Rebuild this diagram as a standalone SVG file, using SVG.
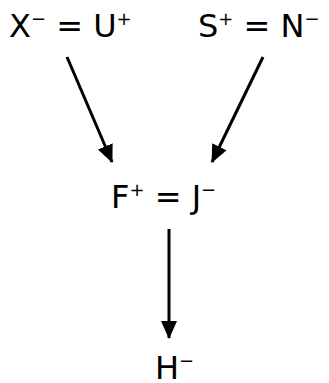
<svg xmlns="http://www.w3.org/2000/svg" width="329" height="383" viewBox="0 0 329 383">
<style>
text{font-family:"DejaVu Sans","Verdana",sans-serif;font-size:32px;fill:#000;}
.s{font-size:18px;}
.c{stroke:#000;stroke-width:3;fill:none;marker-end:url(#ah);}
</style>
<defs>
<marker id="ah" markerUnits="userSpaceOnUse" markerWidth="18" markerHeight="18" viewBox="0 0 18 16" refX="17" refY="8" orient="auto">
<path d="M0,0 L18,8 L0,16 Z" fill="#000"/>
</marker>
</defs>
<rect width="329" height="383" fill="#fff"/>
<g id="connectors">
<line class="c" x1="67" y1="57" x2="112" y2="162"/>
<line class="c" x1="263" y1="57" x2="212" y2="162"/>
<line class="c" x1="169" y1="229" x2="169" y2="338"/>
</g>
<g id="n1"><text x="9" y="37">X<tspan class="s" dy="-12">−</tspan><tspan dy="12"> = U</tspan><tspan class="s" dy="-12">+</tspan></text></g>
<g id="n2"><text x="198" y="37">S<tspan class="s" dy="-12">+</tspan><tspan dy="12"> = N</tspan><tspan class="s" dy="-12">−</tspan></text></g>
<g id="n3"><text x="111" y="208">F<tspan class="s" dy="-12">+</tspan><tspan dy="12"> = J</tspan><tspan class="s" dy="-12">−</tspan></text></g>
<g id="n4"><text x="155" y="379">H<tspan class="s" dy="-12">−</tspan></text></g>
</svg>
